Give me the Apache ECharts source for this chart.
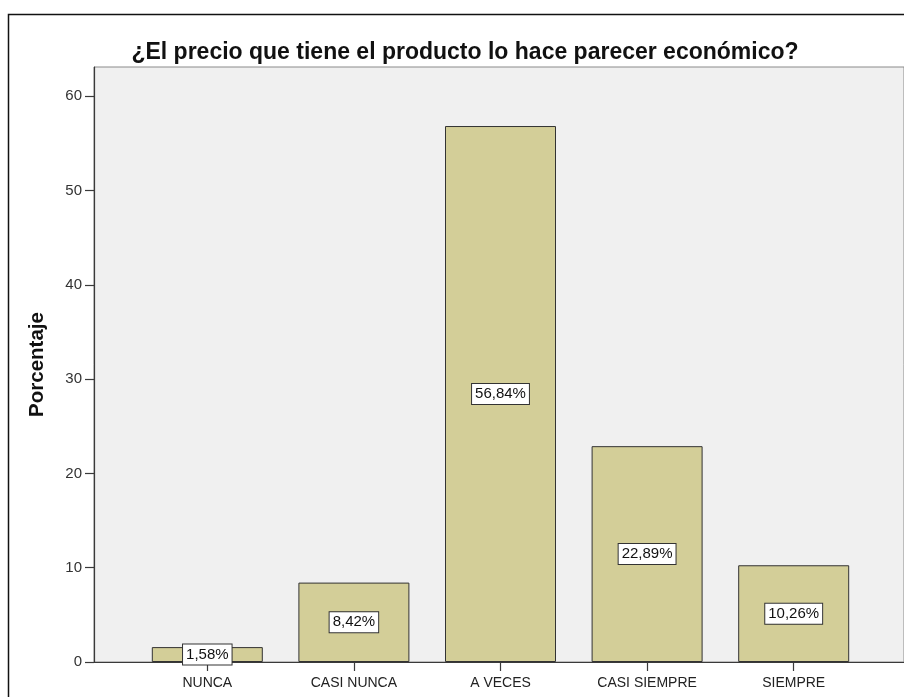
<!DOCTYPE html>
<html>
<head>
<meta charset="utf-8">
<script src="https://cdn.jsdelivr.net/npm/echarts@6/dist/echarts.min.js"></script>
<style>
  html, body { margin: 0; padding: 0; background: #ffffff; }
  #chart { width: 904px; height: 697px; }
</style>
</head>
<body>
<div id="chart"></div>
<script>
// Respuestas a la pregunta sobre el precio del producto (porcentaje)
const categories = ['NUNCA', 'CASI NUNCA', 'A VECES', 'CASI SIEMPRE', 'SIEMPRE'];
const percentages = [1.58, 8.42, 56.84, 22.89, 10.26];
const yTicks = [0, 10, 20, 30, 40, 50, 60];

const titleText = '¿El precio que tiene el producto lo hace parecer económico?';
const yAxisName = 'Porcentaje';

const FONT = '"Liberation Sans", Arial, sans-serif';
const Y_MAX = 63.1;

const chart = echarts.init(document.getElementById('chart'), null, { renderer: 'canvas' });

const option = {
  backgroundColor: '#ffffff',
  animation: false,
  title: {
    text: titleText,
    left: 460,
    top: 36,
    textAlign: 'center',
    textStyle: { fontFamily: FONT, fontSize: 23, fontWeight: 'bold', color: '#111111' }
  },
  graphic: [{
    type: 'rect',
    silent: true,
    z: 100,
    shape: { x: 8.5, y: 14.5, width: 1000, height: 1000 },
    style: { fill: 'none', stroke: '#111111', lineWidth: 1.5 }
  }],
  grid: [
    // plot frame with the grey background and the percentage axis
    { left: 94, top: 67, right: -20, bottom: 35, show: true,
      backgroundColor: '#f0f0f0', borderColor: '#8a8a8a', borderWidth: 1 },
    // inner band holding the five categories
    { left: 134, top: 67, width: 733, bottom: 35 }
  ],
  xAxis: [
    { type: 'value', gridIndex: 0, min: 0, max: 1,
      axisLine: { show: true, onZero: false, lineStyle: { color: '#3a3a3a', width: 1 } },
      axisTick: { show: false }, axisLabel: { show: false }, splitLine: { show: false } },
    { type: 'category', gridIndex: 1, data: categories,
      axisLine: { show: false },
      axisTick: { show: true, alignWithLabel: true, length: 9, inside: false,
                  lineStyle: { color: '#3a3a3a', width: 1.2 } },
      axisLabel: { margin: 14, fontFamily: FONT, fontSize: 14, color: '#222222' },
      splitLine: { show: false } }
  ],
  yAxis: [
    { type: 'value', gridIndex: 0, min: 0, max: Y_MAX,
      name: yAxisName, nameLocation: 'middle', nameGap: 46, nameRotate: 90,
      nameTextStyle: { fontFamily: FONT, fontSize: 20.5, fontWeight: 'bold', color: '#111111' },
      axisLine: { show: true, lineStyle: { color: '#3a3a3a', width: 1.2 } },
      axisTick: { show: true, length: 9, customValues: yTicks, lineStyle: { color: '#3a3a3a', width: 1.2 } },
      axisLabel: { margin: 12, customValues: yTicks, fontFamily: FONT, fontSize: 15, color: '#333333' },
      splitLine: { show: false } },
    { type: 'value', gridIndex: 1, min: 0, max: Y_MAX, show: false, splitLine: { show: false } }
  ],
  series: [{
    type: 'bar',
    xAxisIndex: 1,
    yAxisIndex: 1,
    data: percentages,
    barWidth: 111,
    itemStyle: { color: '#d3ce98', borderColor: '#333333', borderWidth: 1 },
    label: {
      show: true,
      position: 'inside',
      formatter: p => p.value.toFixed(2).replace('.', ',') + '%',
      fontFamily: FONT,
      fontSize: 15,
      color: '#111111',
      backgroundColor: '#ffffff',
      borderColor: '#333333',
      borderWidth: 1,
      padding: [3, 3, 2, 3]
    }
  }]
};

chart.setOption(option);
</script>
</body>
</html>
